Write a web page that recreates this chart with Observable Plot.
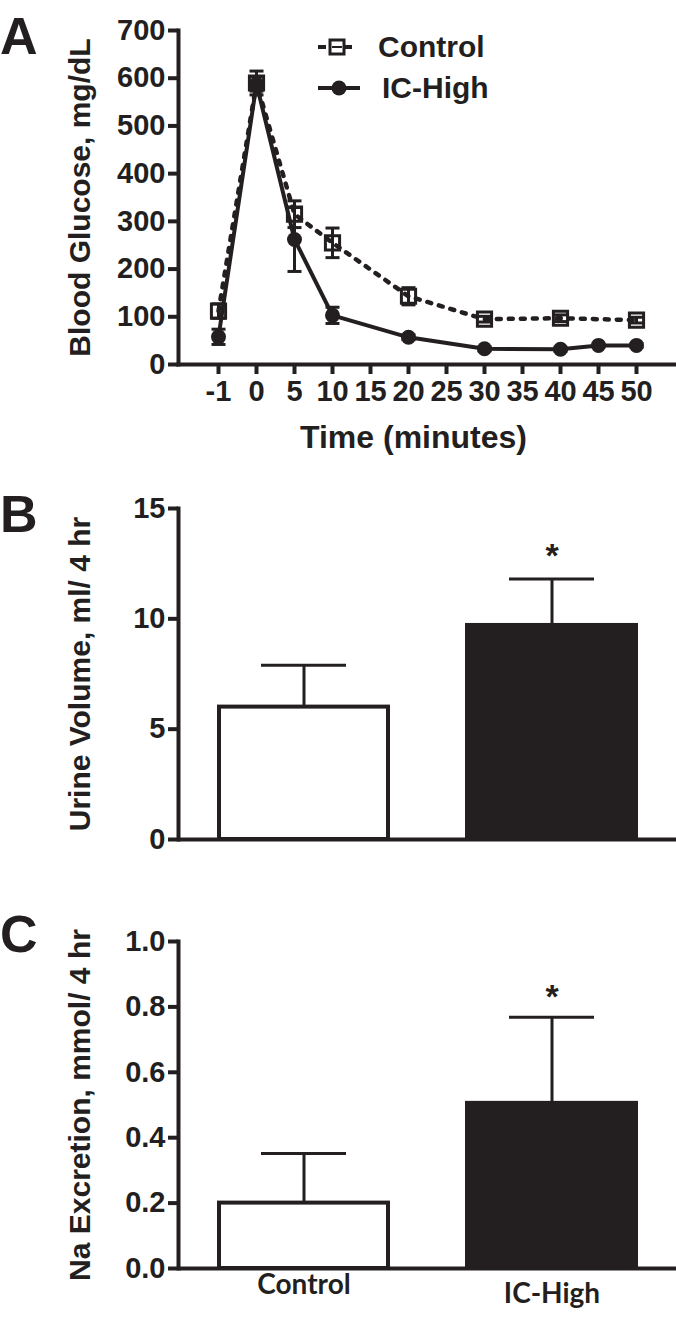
<!DOCTYPE html>
<html>
<head>
<meta charset="utf-8">
<script src="https://cdn.jsdelivr.net/npm/d3@7"></script>
<script src="https://cdn.jsdelivr.net/npm/@observablehq/plot@0.6"></script>
<style>
  html, body { margin: 0; padding: 0; background: #fff; }
  #wrap { position: relative; width: 676px; height: 1317px; font-family: "Liberation Sans", Arial, sans-serif; font-weight: bold; color: #231f20; }
  .panel { position: absolute; left: 0; }
  .letter { position: absolute; font-size: 52px; line-height: 1; font-weight: bold; }
  .legtext { position: absolute; font-size: 30px; line-height: 1; font-weight: bold; }
  svg { overflow: visible; }
</style>
</head>
<body>
<div id="wrap">
  <div class="letter" style="left:0px; top:10px;">A</div>
  <div class="letter" style="left:0px; top:488px;">B</div>
  <div class="letter" style="left:0px; top:908px;">C</div>
  <div id="pA" class="panel" style="top:0px;"></div>
  <div id="pB" class="panel" style="top:480px;"></div>
  <div id="pC" class="panel" style="top:880px;"></div>
  <svg style="position:absolute; left:310px; top:28px;" width="60" height="80">
    <line x1="8" y1="19" x2="46" y2="19" stroke="#231f20" stroke-width="4" stroke-dasharray="8,5"></line>
    <rect x="20" y="12" width="14" height="14" fill="white" stroke="#231f20" stroke-width="3"></rect>
    <line x1="22" y1="19" x2="32" y2="19" stroke="#231f20" stroke-width="2"></line>
    <line x1="8" y1="60" x2="50" y2="60" stroke="#231f20" stroke-width="4"></line>
    <circle cx="29" cy="60" r="7.5" fill="#231f20"></circle>
  </svg>
  <div class="legtext" style="left:378px; top:32px;">Control</div>
  <div class="legtext" style="left:382px; top:73px;">IC-High</div>
</div>
<script>
// ---------- Panel A data ----------
const timeTicks = ["-1", "0", "5", "10", "15", "20", "25", "30", "35", "40", "45", "50"];
const glucoseTicks = [0, 100, 200, 300, 400, 500, 600, 700];
const controlTime = [-1, 0, 5, 10, 20, 30, 40, 50];
const controlMean = [112, 590, 315, 255, 143, 95, 97, 93];
const controlSEM = [15, 25, 28, 31, 18, 6, 7, 6];
const icTime = [-1, 0, 5, 10, 20, 30, 40, 45, 50];
const icMean = [58, 588, 262, 103, 57, 33, 32, 40, 40];
const icSEM = [16, 15, 67, 17, 5, 4, 4, 3, 4];

// ---------- Panel B / C data ----------
const groups = ["Control", "IC-High"];
const urineMean = [6.0, 9.7];
const urineSEM = [1.9, 2.1];
const urineSig = ["", "*"];
const urineTicks = [0, 5, 10, 15];
const naMean = [0.20, 0.505];
const naSEM = [0.152, 0.263];
const naSig = ["", "*"];
const naTicks = [0, 0.2, 0.4, 0.6, 0.8, 1.0];

const INK = "#231f20";
const FONT = "'Liberation Sans', Arial, sans-serif";
const XFONT = "Lato, 'Open Sans', sans-serif";

const control = controlTime.map((t, i) => ({t: String(t), y: controlMean[i], lo: controlMean[i] - controlSEM[i], hi: controlMean[i] + controlSEM[i]}));
const ic = icTime.map((t, i) => ({t: String(t), y: icMean[i], lo: icMean[i] - icSEM[i], hi: icMean[i] + icSEM[i]}));
const both = control.concat(ic);

const cap = {
  draw(ctx, size) {
    const w = Math.sqrt(size / Math.PI);
    ctx.moveTo(-w, 0);
    ctx.lineTo(w, 0);
  }
};

const baseStyle = {fontFamily: FONT, fontWeight: "bold", color: INK, background: "transparent", overflow: "visible"};

const plotA = Plot.plot({
  width: 676, height: 470,
  marginLeft: 178, marginRight: 0, marginTop: 30, marginBottom: 106,
  style: baseStyle,
  x: {type: "point", domain: timeTicks, range: [198, 656], axis: null},
  y: {domain: [0, 700], axis: null},
  marks: [
    Plot.frame({anchor: "left", stroke: INK, strokeWidth: 4}),
    Plot.frame({anchor: "bottom", stroke: INK, strokeWidth: 4}),
    Plot.axisY({ticks: glucoseTicks, tickSize: 10, tickPadding: 3, strokeWidth: 4, stroke: INK, fill: INK, fontSize: 29, label: null}),
    Plot.axisX({ticks: timeTicks, tickSize: 10, tickPadding: 6, strokeWidth: 4, stroke: INK, fill: INK, fontSize: 29, label: null}),
    Plot.line(control, {x: "t", y: "y", stroke: INK, strokeWidth: 4.5, strokeDasharray: "4,8"}),
    Plot.line(ic, {x: "t", y: "y", stroke: INK, strokeWidth: 4}),
    Plot.ruleX(both, {x: "t", y1: "lo", y2: "hi", stroke: INK, strokeWidth: 3}),
    Plot.dot(both, {x: "t", y: "hi", symbol: cap, r: 7, stroke: INK, strokeWidth: 3}),
    Plot.dot(both, {x: "t", y: "lo", symbol: cap, r: 7, stroke: INK, strokeWidth: 3}),
    Plot.dot(control, {x: "t", y: "y", symbol: "square", r: 8, stroke: INK, fill: "none", strokeWidth: 3}),
    Plot.dot(ic, {x: "t", y: "y", r: 7.5, fill: INK, stroke: "none"}),
    Plot.text(["Time (minutes)"], {frameAnchor: "bottom", dx: -14, dy: 83, fontSize: 32, fill: INK}),
    Plot.text(["Blood Glucose, mg/dL"], {frameAnchor: "left", rotate: -90, textAnchor: "middle", dx: -98, fontSize: 30, fill: INK})
  ]
});
document.getElementById("pA").append(plotA);

function barPanel(opts) {
  const rows = groups.map((g, i) => ({g, y: opts.mean[i], hi: opts.mean[i] + opts.sem[i], sig: opts.sig[i]}));
  const xAxes = opts.xLabels
    ? groups.map((g, i) => Plot.axisX({ticks: [g], tickSize: 0, tickPadding: 6 + 9 * i, fontSize: 28, fontFamily: XFONT, fontWeight: "bold", fill: INK, label: null}))
    : [];
  return Plot.plot({
    width: 676, height: opts.height,
    marginLeft: 178, marginRight: 0, marginTop: opts.marginTop, marginBottom: opts.marginBottom,
    style: baseStyle,
    x: {type: "band", domain: groups, range: [178, 676], paddingInner: 0.32, paddingOuter: 0.163, axis: null},
    y: {domain: opts.domain, axis: null},
    color: {domain: groups, range: ["white", INK]},
    marks: [
      Plot.barY(rows, {x: "g", y: "y", fill: "g", stroke: INK, strokeWidth: 4}),
      Plot.ruleX(rows, {x: "g", y1: "y", y2: "hi", stroke: INK, strokeWidth: 3}),
      Plot.tickY(rows, {x: "g", y: "hi", insetLeft: 42, insetRight: 42, stroke: INK, strokeWidth: 3}),
      Plot.text(rows, {x: "g", y: "hi", text: "sig", dy: opts.starDy, fontSize: 34, fill: INK}),
      Plot.frame({anchor: "left", stroke: INK, strokeWidth: 4}),
      Plot.ruleY([0], {stroke: INK, strokeWidth: 4}),
      Plot.axisY({ticks: opts.ticks, tickFormat: opts.fmt, tickSize: 10, tickPadding: 3, strokeWidth: 4, stroke: INK, fill: INK, fontSize: 29, label: null}),
      ...xAxes,
      Plot.text([opts.title], {frameAnchor: "left", rotate: -90, textAnchor: "middle", dx: -98, fontSize: 30, fill: INK})
    ]
  });
}

document.getElementById("pB").append(barPanel({
  height: 380, marginTop: 28, marginBottom: 21, domain: [0, 15], ticks: urineTicks, fmt: d3.format("d"),
  mean: urineMean, sem: urineSEM, sig: urineSig, starDy: -23, xLabels: false,
  title: "Urine Volume, ml/ 4 hr"
}));

document.getElementById("pC").append(barPanel({
  height: 437, marginTop: 61, marginBottom: 49, domain: [0, 1.0], ticks: naTicks, fmt: d3.format(".1f"),
  mean: naMean, sem: naSEM, sig: naSig, starDy: -20, xLabels: true,
  title: "Na Excretion, mmol/ 4 hr"
}));
</script>
</body>
</html>
